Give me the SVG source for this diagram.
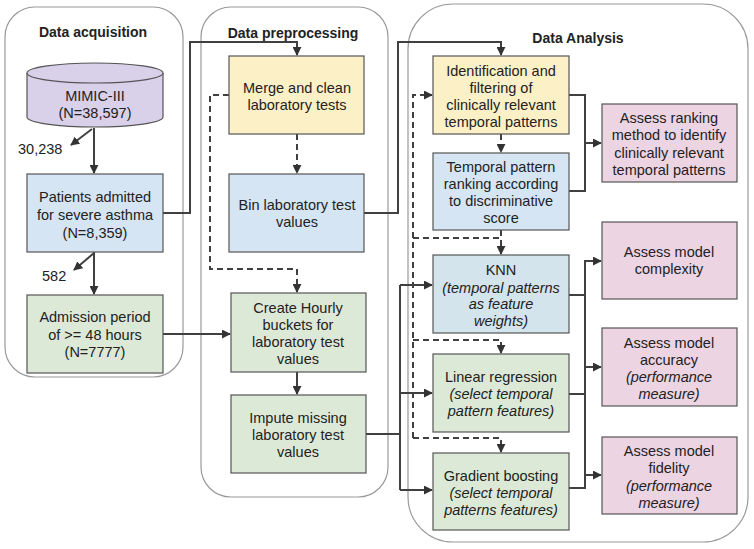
<svg xmlns="http://www.w3.org/2000/svg" width="754" height="549" viewBox="0 0 754 549">
<defs>
<marker id="ah" viewBox="0 0 10 10" refX="9" refY="5" markerWidth="9" markerHeight="9" markerUnits="userSpaceOnUse" orient="auto">
<path d="M0,0 L10,5 L0,10 z" fill="#333"/>
</marker>
</defs>
<style>
.panel{fill:#fff;stroke:#9a9a9a;stroke-width:1.2}
.box{stroke:#555;stroke-width:1.2}
.yel{fill:#fcf0c6}.blu{fill:#d5e5f4}.knn{fill:#d3e4ec}.grn{fill:#dce9d6}.pnk{fill:#ecd4e3}.lav{fill:#d9d0ea}
text{font-family:"Liberation Sans",Arial,sans-serif;font-size:14.5px;fill:#222;text-anchor:middle;dominant-baseline:central}
.title{font-weight:bold;font-size:14px}
.it{font-style:italic}
.c{fill:none;stroke:#404040;stroke-width:2}
.d{fill:none;stroke:#404040;stroke-width:2;stroke-dasharray:6,4}
.lbl{text-anchor:start}
</style>
<g id="panels">
<rect class="panel" x="5" y="7" width="178" height="370" rx="30"/>
<rect class="panel" x="201" y="7" width="187" height="490" rx="30"/>
<rect class="panel" x="408" y="4" width="340" height="538" rx="45"/>
<text class="title" x="93" y="32">Data acquisition</text>
<text class="title" x="293" y="33">Data preprocessing</text>
<text class="title" x="578" y="38">Data Analysis</text>
</g>
<g id="connectors">
<path class="c" d="M94,128 V173" marker-end="url(#ah)"/>
<path class="c" d="M92,129 L71,145" marker-end="url(#ah)"/>
<path class="c" d="M94,252 V294" marker-end="url(#ah)"/>
<path class="c" d="M94,253 L74,270" marker-end="url(#ah)"/>
<path class="c" d="M163,213 H190 V42 H297 V55" marker-end="url(#ah)"/>
<path class="c" d="M163,334 H230" marker-end="url(#ah)"/>
<path class="d" d="M297,134 V173" marker-end="url(#ah)"/>
<path class="d" d="M229,95 H210 V269 H297 V292" marker-end="url(#ah)"/>
<path class="c" d="M297,372 V394" marker-end="url(#ah)"/>
<path class="c" d="M364,213 H398 V42 H501 V55" marker-end="url(#ah)"/>
<path class="c" d="M366,434 H400 M400,285 V490"/>
<path class="c" d="M400,285 H432" marker-end="url(#ah)"/>
<path class="c" d="M400,393 H432" marker-end="url(#ah)"/>
<path class="c" d="M400,490 H432" marker-end="url(#ah)"/>
<path class="d" d="M413,438 V95 H432" marker-end="url(#ah)"/>
<path class="d" d="M501,134 V152" marker-end="url(#ah)"/>
<path class="d" d="M413,238 H501" />
<path class="d" d="M501,230 V254" marker-end="url(#ah)"/>
<path class="d" d="M413,340 H501 V353" marker-end="url(#ah)"/>
<path class="d" d="M413,438 H501 V452" marker-end="url(#ah)"/>
<path class="c" d="M569,95 H585 V191 H569"/>
<path class="c" d="M585,143 H601" marker-end="url(#ah)"/>
<path class="c" d="M569,295 H585 M569,394 H585 M569,488 H585 V260"/>
<path class="c" d="M585,261 H601" marker-end="url(#ah)"/>
<path class="c" d="M585,367 H601" marker-end="url(#ah)"/>
<path class="c" d="M585,475 H601" marker-end="url(#ah)"/>
<text class="lbl" x="18" y="149">30,238</text>
<text class="lbl" x="42" y="276">582</text>
</g>
<g id="mimic">
<path class="lav box" d="M27,73 V117 A68,10 0 0 0 163,117 V73"/>
<ellipse class="lav box" cx="95" cy="73" rx="68" ry="10"/>
<text x="95" y="96">MIMIC-III</text>
<text x="95" y="113">(N=38,597)</text>
</g>
<g id="patients">
<rect class="box blu" x="27" y="174" width="136" height="78"/>
<text x="95" y="197">Patients admitted</text>
<text x="95" y="215">for severe asthma</text>
<text x="95" y="233">(N=8,359)</text>
</g>
<g id="admission">
<rect class="box grn" x="27" y="295" width="136" height="78"/>
<text x="95" y="317">Admission period</text>
<text x="95" y="335">of &gt;= 48 hours</text>
<text x="95" y="352">(N=7777)</text>
</g>
<g id="merge">
<rect class="box yel" x="229" y="56" width="135" height="78"/>
<text x="297" y="88">Merge and clean</text>
<text x="297" y="105">laboratory tests</text>
</g>
<g id="bin">
<rect class="box blu" x="229" y="174" width="135" height="78"/>
<text x="297" y="205">Bin laboratory test</text>
<text x="297" y="222">values</text>
</g>
<g id="create">
<rect class="box grn" x="231" y="293" width="135" height="79"/>
<text x="298" y="308">Create Hourly</text>
<text x="298" y="325">buckets for</text>
<text x="298" y="342">laboratory test</text>
<text x="298" y="359">values</text>
</g>
<g id="impute">
<rect class="box grn" x="231" y="395" width="135" height="78"/>
<text x="298" y="418">Impute missing</text>
<text x="298" y="435">laboratory test</text>
<text x="298" y="452">values</text>
</g>
<g id="ident">
<rect class="box yel" x="433" y="56" width="136" height="78"/>
<text x="501" y="71">Identification and</text>
<text x="501" y="88">filtering of</text>
<text x="501" y="105">clinically relevant</text>
<text x="501" y="122">temporal patterns</text>
</g>
<g id="temporal">
<rect class="box blu" x="433" y="153" width="136" height="77"/>
<text x="501" y="167">Temporal pattern</text>
<text x="501" y="184">ranking according</text>
<text x="501" y="201">to discriminative</text>
<text x="501" y="218">score</text>
</g>
<g id="knn">
<rect class="box knn" x="433" y="255" width="136" height="78"/>
<text x="501" y="270">KNN</text>
<text class="it" x="501" y="288">(temporal patterns</text>
<text class="it" x="501" y="304">as feature</text>
<text class="it" x="501" y="321">weights)</text>
</g>
<g id="linear">
<rect class="box grn" x="433" y="354" width="136" height="78"/>
<text x="501" y="377">Linear regression</text>
<text class="it" x="501" y="394">(select temporal</text>
<text class="it" x="501" y="411">pattern features)</text>
</g>
<g id="gradient">
<rect class="box grn" x="433" y="453" width="136" height="77"/>
<text x="501" y="476">Gradient boosting</text>
<text class="it" x="501" y="493">(select temporal</text>
<text class="it" x="501" y="510">patterns features)</text>
</g>
<g id="assess-ranking">
<rect class="box pnk" x="602" y="104" width="135" height="78"/>
<text x="669" y="118">Assess ranking</text>
<text x="669" y="135">method to identify</text>
<text x="669" y="153">clinically relevant</text>
<text x="669" y="170">temporal patterns</text>
</g>
<g id="assess-complexity">
<rect class="box pnk" x="602" y="222" width="135" height="77"/>
<text x="669" y="252">Assess model</text>
<text x="669" y="269">complexity</text>
</g>
<g id="assess-accuracy">
<rect class="box pnk" x="602" y="328" width="135" height="78"/>
<text x="669" y="343">Assess model</text>
<text x="669" y="360">accuracy</text>
<text class="it" x="669" y="377">(performance</text>
<text class="it" x="669" y="394">measure)</text>
</g>
<g id="assess-fidelity">
<rect class="box pnk" x="602" y="437" width="135" height="77"/>
<text x="669" y="451">Assess model</text>
<text x="669" y="468">fidelity</text>
<text class="it" x="669" y="486">(performance</text>
<text class="it" x="669" y="503">measure)</text>
</g>
</svg>
